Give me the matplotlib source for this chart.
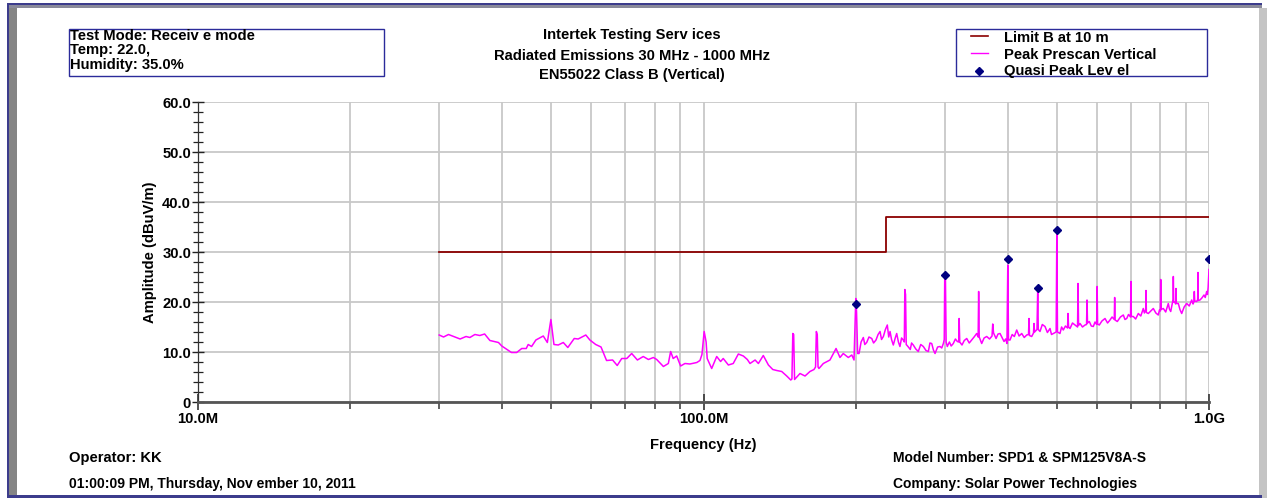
import matplotlib
matplotlib.use("Agg")
import matplotlib.pyplot as plt
import matplotlib.ticker as mticker
from matplotlib.patches import Rectangle
from matplotlib.lines import Line2D

plt.rcParams["font.family"] = ["Liberation Sans", "DejaVu Sans"]
plt.rcParams["font.weight"] = "bold"

# ---- data -------------------------------------------------------------
# Limit B at 10 m (dBuV/m), step at 230 MHz
limit_freq_mhz = [30.0, 230.0, 230.0, 1000.0]
limit_level = [30.0, 30.0, 37.0, 37.0]

# Peak prescan, vertical polarisation: 30 - 200 MHz
peak_low_freq_mhz = [
    30.0, 30.6, 31.3, 33.0, 33.9, 34.5, 35.3, 36.1, 36.9, 37.8,
    39.3, 39.9, 41.7, 42.7, 43.7, 44.6, 45.0, 45.7, 46.6, 48.2,
    49.1, 49.9, 50.6, 51.6, 52.8, 53.9, 55.5, 56.5, 58.5, 59.6,
    61.2, 62.7, 64.3, 66.1, 67.5, 68.9, 70.5, 72.1, 74.0, 76.0,
    77.8, 79.6, 80.8, 83.3, 85.2, 86.1, 87.1, 88.5, 90.1, 91.9,
    94.0, 97.0, 98.4, 99.3, 100.3, 101.2, 101.7, 103.8, 106.2, 108.1,
    109.4, 112.0, 114.5, 117.2, 119.9, 122.1, 123.6, 126.5, 128.4, 131.3,
    134.4, 137.1, 139.6, 142.8, 146.1, 148.8, 149.6, 150.2, 150.8, 151.4,
    155.2, 158.8, 162.4, 165.4, 166.6, 167.2, 167.9, 168.5, 169.2, 172.6,
    177.9, 182.9, 186.2, 189.0, 193.4, 196.5, 198.5, 199.6, 200.1, 200.8,
    201.8,
]
peak_low_level = [
    13.4, 13.0, 13.5, 12.6, 13.1, 12.9, 13.5, 13.3, 13.6, 12.3,
    11.9, 11.2, 9.9, 9.9, 10.7, 10.7, 11.5, 11.1, 12.4, 13.2,
    11.9, 16.5, 11.5, 11.4, 11.9, 10.9, 12.7, 12.6, 13.4, 12.4,
    11.5, 11.0, 8.3, 8.4, 7.3, 8.7, 8.7, 9.7, 8.4, 9.1,
    8.5, 8.9, 8.5, 7.1, 7.7, 10.1, 8.7, 9.2, 7.2, 7.7,
    7.6, 7.9, 8.3, 9.5, 14.1, 12.0, 8.7, 6.7, 9.1, 8.1,
    8.7, 7.4, 7.7, 9.6, 9.2, 8.5, 7.7, 8.4, 7.7, 9.3,
    7.4, 6.5, 6.3, 6.1, 5.2, 4.4, 4.6, 13.7, 13.5, 4.5,
    5.7, 5.2, 6.1, 6.5, 7.0, 14.1, 13.5, 7.0, 6.7, 7.7,
    8.4, 10.7, 8.9, 9.7, 8.9, 9.4, 8.4, 17.0, 20.7, 18.0,
    9.7,
]

# Peak prescan, vertical polarisation: 200 - 1000 MHz
peak_high_freq_mhz = [
    203.1, 205.0, 207.1, 208.5, 210.3, 212.5, 215.2, 217.0, 219.4, 221.5,
    223.5, 225.0, 226.9, 229.0, 231.0, 232.5, 233.9, 235.5, 237.4, 239.5,
    241.1, 243.0, 244.7, 246.5, 248.4, 249.6, 250.2, 251.0, 251.8, 253.8,
    256.5, 258.0, 260.0, 263.0, 266.0, 269.0, 272.2, 275.5, 278.5, 280.5,
    282.8, 285.0, 287.1, 290.5, 293.7, 296.0, 298.2, 299.4, 300.1, 301.0,
    302.0, 303.6, 306.5, 309.0, 312.0, 315.0, 317.8, 319.8, 320.4, 321.3,
    324.6, 328.0, 331.7, 335.5, 339.3, 343.0, 347.1, 349.4, 350.2, 351.1,
    355.1, 359.0, 363.3, 368.0, 372.2, 373.4, 374.8, 379.1, 382.5, 386.0,
    389.5, 393.1, 396.0, 398.4, 399.9, 401.2, 404.0, 408.0, 412.0, 416.5,
    421.0, 426.1, 431.0, 435.9, 439.5, 440.5, 441.5, 445.9, 449.6, 450.6,
    451.8, 456.8, 458.3, 459.5, 463.1, 468.0, 473.8, 479.0, 484.7, 488.0,
    492.0, 498.5, 500.0, 501.5, 507.2, 511.0, 514.9, 520.0, 525.0, 526.1,
    527.5, 530.9, 537.0, 543.1, 549.5, 550.7, 552.0, 555.7, 562.0, 568.5,
    572.5, 573.7, 575.0, 579.7, 585.0, 590.4, 595.0, 599.5, 600.8, 602.0,
    606.7, 614.0, 622.7, 630.0, 637.1, 643.0, 649.5, 650.7, 652.0, 658.6,
    668.0, 676.9, 682.0, 687.4, 693.0, 699.5, 700.8, 702.0, 708.4, 716.0,
    724.7, 733.0, 741.3, 745.0, 749.5, 750.6, 751.8, 758.4, 767.0, 775.9,
    785.0, 793.8, 798.0, 801.5, 802.6, 803.7, 812.1, 821.0, 830.8, 835.0,
    840.0, 845.0, 849.0, 850.0, 851.5, 856.0, 859.2, 860.4, 861.8, 864.0,
    869.6, 876.0, 883.1, 893.0, 903.5, 914.0, 924.3, 930.0, 933.5, 935.3,
    937.0, 945.6, 949.8, 951.1, 952.3, 959.8, 968.0, 977.5, 983.0, 989.5,
    993.0, 996.0, 1000.0,
]
peak_high_level = [
    9.7, 12.0, 12.9, 11.5, 11.9, 13.0, 12.7, 11.8, 12.4, 13.5,
    14.1, 12.5, 13.1, 14.5, 15.4, 13.0, 14.1, 12.5, 11.4, 12.8,
    13.7, 12.0, 11.1, 12.8, 12.4, 12.0, 22.5, 21.5, 11.5, 11.1,
    10.5, 11.8, 11.4, 10.6, 10.1, 11.5, 11.1, 10.3, 10.1, 11.8,
    11.7, 10.4, 9.7, 11.0, 11.1, 10.8, 11.7, 12.5, 25.4, 25.0,
    12.0, 11.1, 12.0, 11.2, 11.7, 12.6, 12.1, 12.0, 16.7, 12.0,
    11.4, 12.3, 12.7, 11.8, 12.4, 13.0, 13.7, 13.0, 22.1, 13.0,
    11.7, 12.8, 13.1, 12.6, 13.2, 15.6, 13.8, 12.7, 13.6, 13.7,
    12.9, 12.1, 12.6, 11.7, 27.4, 12.4, 12.4, 13.5, 13.1, 14.4,
    13.2, 13.7, 12.9, 13.4, 13.5, 16.7, 13.3, 13.1, 13.8, 15.7,
    14.0, 14.5, 22.4, 14.5, 14.1, 15.5, 15.1, 13.9, 14.7, 13.5,
    13.7, 14.0, 34.1, 14.0, 13.7, 15.0, 14.4, 15.2, 14.8, 17.7,
    15.0, 14.7, 15.8, 15.4, 15.0, 23.7, 15.3, 15.7, 15.0, 15.4,
    15.5, 20.4, 15.8, 16.1, 15.2, 15.1, 16.0, 15.5, 23.1, 15.6,
    15.4, 16.2, 16.7, 15.8, 16.4, 17.0, 16.5, 20.9, 16.4, 16.1,
    17.0, 17.4, 16.5, 16.7, 17.5, 17.0, 24.1, 17.1, 17.1, 16.6,
    17.7, 17.2, 18.7, 17.8, 18.5, 22.3, 17.9, 17.7, 18.2, 18.7,
    17.8, 17.4, 18.4, 18.2, 24.5, 18.5, 18.7, 18.0, 19.7, 18.6,
    18.1, 19.5, 20.5, 25.1, 20.0, 20.0, 19.6, 22.7, 19.8, 19.7,
    19.7, 18.5, 17.7, 19.0, 19.7, 19.2, 20.4, 19.6, 20.0, 22.1,
    20.2, 20.1, 20.5, 25.9, 20.3, 20.4, 20.8, 21.4, 20.9, 22.1,
    21.5, 22.9, 26.5,
]
assert len(peak_low_freq_mhz) == len(peak_low_level)
assert len(peak_high_freq_mhz) == len(peak_high_level)

# Quasi-peak measurements
qp_freq_mhz = [200.0, 300.0, 400.0, 458.0, 500.0, 1000.0]
qp_level = [19.7, 25.5, 28.6, 22.9, 34.5, 28.7]

y_ticks = [0, 10, 20, 30, 40, 50, 60]
y_tick_labels = ["0", "10.0", "20.0", "30.0", "40.0", "50.0", "60.0"]
x_ticks_hz = [10e6, 100e6, 1e9]
x_tick_labels = ["10.0M", "100.0M", "1.0G"]

# ---- figure -----------------------------------------------------------
W, H = 1267, 500
fig = plt.figure(figsize=(W / 100, H / 100), dpi=100)
fig.patch.set_facecolor("white")


def fx(px):
    return px / W


def fy(py):
    return 1 - py / H


ax = fig.add_axes([fx(198), fy(402), fx(1209) - fx(198), fy(102) - fy(402)])

LIMIT_C = "#8b0000"
PEAK_C = "#ff00ff"
QP_C = "#000080"
GRID_C = "#c8c8c8"

hz = 1e6
peak_freq_hz = [f * hz for f in peak_low_freq_mhz + peak_high_freq_mhz]
peak_level = peak_low_level + peak_high_level

ax.plot([f * hz for f in limit_freq_mhz], limit_level, color=LIMIT_C, lw=1.3, zorder=3)
ax.plot(peak_freq_hz, peak_level, color=PEAK_C, lw=1.1, zorder=4)
ax.plot([f * hz for f in qp_freq_mhz], qp_level, linestyle="none", marker="D",
        markersize=4.2, color=QP_C, zorder=5)

ax.set_xscale("log")
ax.set_xlim(10e6, 1e9)
ax.set_ylim(0, 60)

ax.xaxis.set_major_locator(mticker.FixedLocator(x_ticks_hz))
ax.xaxis.set_major_formatter(mticker.FixedFormatter(x_tick_labels))
ax.xaxis.set_minor_locator(mticker.LogLocator(base=10, subs=range(2, 10)))
ax.xaxis.set_minor_formatter(mticker.NullFormatter())
ax.set_yticks(y_ticks)
ax.set_yticklabels(y_tick_labels)
ax.yaxis.set_minor_locator(mticker.MultipleLocator(2))

ax.grid(True, which="both", axis="x", color=GRID_C, lw=1.3, zorder=0)
ax.grid(True, which="major", axis="y", color=GRID_C, lw=1.3, zorder=0)
ax.set_axisbelow(True)

for side in ("top", "right"):
    ax.spines[side].set_visible(False)
ax.spines["left"].set_color("#333333")
ax.spines["left"].set_linewidth(0.9)
ax.spines["bottom"].set_color("#555555")
ax.spines["bottom"].set_linewidth(2.0)

FS = 10.6
ax.tick_params(axis="x", which="major", direction="inout", length=11, width=1.2,
               color="#333333", labelsize=FS, pad=2)
ax.tick_params(axis="x", which="minor", direction="out", length=5, width=1.2,
               color="#444444")
ax.tick_params(axis="y", which="major", direction="inout", length=8, width=1.0,
               color="#222222", labelsize=FS, pad=1)
ax.tick_params(axis="y", which="minor", direction="inout", length=7, width=0.9,
               color="#222222")
for lab in ax.get_xticklabels() + ax.get_yticklabels():
    lab.set_fontweight("bold")

ax.set_xlabel("Frequency (Hz)", fontsize=FS, fontweight="bold", labelpad=8)
ax.set_ylabel("Amplitude (dBuV/m)", fontsize=FS, fontweight="bold", labelpad=4)

# ---- header texts -----------------------------------------------------
cx = fx(632)
fig.text(cx, fy(39.5), "Intertek Testing Serv ices", ha="center", va="baseline",
         fontsize=FS, fontweight="bold")
fig.text(cx, fy(60.5), "Radiated Emissions 30 MHz - 1000 MHz", ha="center",
         va="baseline", fontsize=FS, fontweight="bold")
fig.text(cx, fy(78.5), "EN55022 Class B (Vertical)", ha="center", va="baseline",
         fontsize=FS, fontweight="bold")

BOX_C = "#2b2b9a"
fig.add_artist(Rectangle((fx(69), fy(76)), fx(384) - fx(69), fy(28.5) - fy(76),
                         transform=fig.transFigure, fill=False, ec=BOX_C, lw=1.0))
for txt, base in (("Test Mode: Receiv e mode", 39.5), ("Temp: 22.0,", 54.0),
                  ("Humidity: 35.0%", 68.5)):
    fig.text(fx(70), fy(base), txt, ha="left", va="baseline", fontsize=FS,
             fontweight="bold")

# legend panel
fig.add_artist(Rectangle((fx(956), fy(75.5)), fx(1207) - fx(956), fy(28.5) - fy(75.5),
                         transform=fig.transFigure, fill=False, ec=BOX_C, lw=1.0))
fig.add_artist(Line2D([fx(971), fx(988)], [fy(36), fy(36)], transform=fig.transFigure,
                      color=LIMIT_C, lw=1.2))
fig.add_artist(Line2D([fx(971), fx(988)], [fy(52.5), fy(52.5)], transform=fig.transFigure,
                      color=PEAK_C, lw=1.0))
fig.add_artist(Line2D([fx(979.5)], [fy(70.5)], transform=fig.transFigure, marker="D",
                      markersize=3.6, color=QP_C, linestyle="none"))
for txt, base in (("Limit B at 10 m", 42.5), ("Peak Prescan Vertical", 59.0),
                  ("Quasi Peak Lev el", 75.5)):
    fig.text(fx(1004), fy(base), txt, ha="left", va="baseline", fontsize=FS,
             fontweight="bold")

# ---- footer texts -----------------------------------------------------
FS_FOOT = 10.0
fig.text(fx(69), fy(462), "Operator: KK", ha="left", va="baseline", fontsize=FS,
         fontweight="bold")
fig.text(fx(69), fy(488), "01:00:09 PM, Thursday, Nov ember 10, 2011", ha="left",
         va="baseline", fontsize=FS_FOOT, fontweight="bold")
fig.text(fx(893), fy(462), "Model Number: SPD1 & SPM125V8A-S", ha="left",
         va="baseline", fontsize=FS_FOOT, fontweight="bold")
fig.text(fx(893), fy(488), "Company: Solar Power Technologies", ha="left",
         va="baseline", fontsize=FS_FOOT, fontweight="bold")

# ---- window frame -----------------------------------------------------
def band(x0, y0, x1, y1, color):
    fig.add_artist(Rectangle((fx(x0), fy(y1)), fx(x1) - fx(x0), fy(y0) - fy(y1),
                             transform=fig.transFigure, color=color, lw=0))

band(7, 3, 1262, 5, "#3c3c8c")
band(7, 5, 1262, 8, "#8a8a9a")
band(7, 3, 9, 498, "#3c3c8c")
band(9, 8, 17, 496, "#858585")
band(1259, 8, 1267, 498, "#c4c4c4")
band(7, 495, 1262, 498, "#3c3c8c")

fig.savefig("out.png", dpi=100, facecolor="white")
